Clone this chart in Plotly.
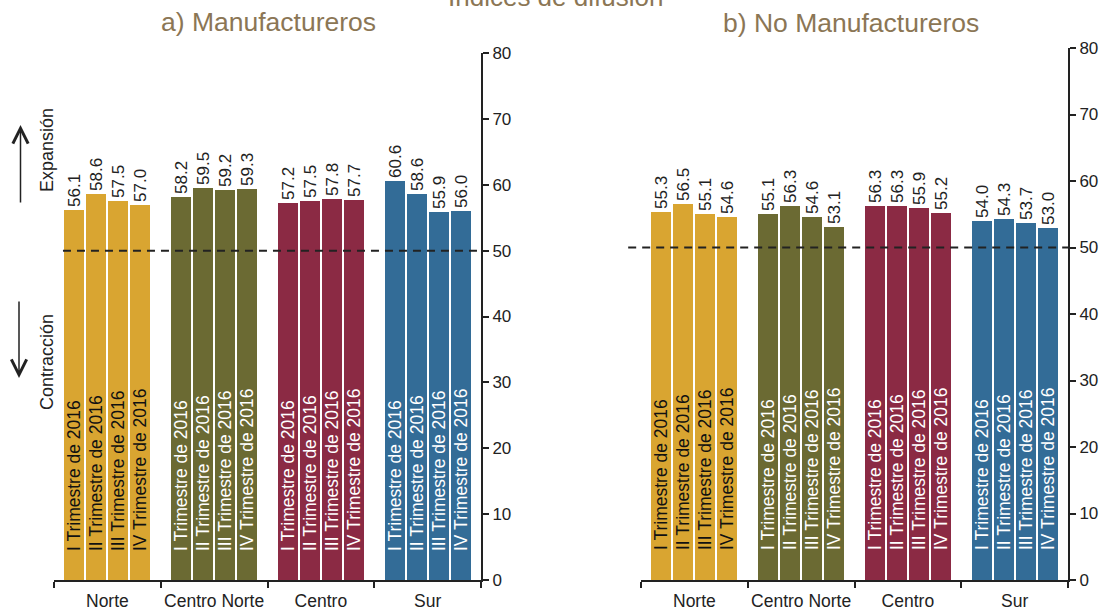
import plotly.graph_objects as go

# ---------------- data ----------------
regions = ["Norte", "Centro Norte", "Centro", "Sur"]
quarters = ["I Trimestre de 2016", "II Trimestre de 2016",
            "III Trimestre de 2016", "IV Trimestre de 2016"]
manuf_norte = [56.1, 58.6, 57.5, 57.0]
manuf_centro_norte = [58.2, 59.5, 59.2, 59.3]
manuf_centro = [57.2, 57.5, 57.8, 57.7]
manuf_sur = [60.6, 58.6, 55.9, 56.0]
nomanuf_norte = [55.3, 56.5, 55.1, 54.6]
nomanuf_centro_norte = [55.1, 56.3, 54.6, 53.1]
nomanuf_centro = [56.3, 56.3, 55.9, 55.2]
nomanuf_sur = [54.0, 54.3, 53.7, 53.0]
threshold = 50
y_ticks = [0, 10, 20, 30, 40, 50, 60, 70, 80]

region_colors = ["#D9A531", "#6B6A33", "#8B2A44", "#336C97"]
inside_text_colors = ["#111111", "#FFFFFF", "#FFFFFF", "#FFFFFF"]

W, H = 1107, 607
FONT = "Liberation Sans, Arial, sans-serif"
TITLE_COLOR = "#8B7655"
INK = "#222222"

pitch = 0.206
bar_w = 0.188
text_base = 4.0


def build(series):
    xs, ys, cols, tcols, labels, names = [], [], [], [], [], []
    for i, vals in enumerate(series):
        for j, v in enumerate(vals):
            xs.append(i + 0.5 + (j - 1.5) * pitch)
            ys.append(v)
            cols.append(region_colors[i])
            tcols.append(inside_text_colors[i])
            labels.append(f"{v:.1f}")
            names.append(quarters[j])
    return xs, ys, cols, tcols, labels, names


fig = go.Figure()

panels = [
    ([manuf_norte, manuf_centro_norte, manuf_centro, manuf_sur], "x", "y"),
    ([nomanuf_norte, nomanuf_centro_norte, nomanuf_centro, nomanuf_sur], "x2", "y2"),
]

for series, xa, ya in panels:
    xs, ys, cols, tcols, labels, names = build(series)
    fig.add_trace(go.Bar(
        x=xs, y=ys, width=bar_w, xaxis=xa, yaxis=ya,
        marker=dict(color=cols, line=dict(width=0)),
        text=labels, textposition="outside", textangle=-90,
        outsidetextfont=dict(family=FONT, size=17, color=INK),
        constraintext="none", cliponaxis=False, showlegend=False,
        hoverinfo="skip",
    ))
    fig.add_trace(go.Bar(
        x=xs, y=[v - text_base for v in ys], base=text_base, width=bar_w,
        xaxis=xa, yaxis=ya,
        marker=dict(color="rgba(0,0,0,0)", line=dict(width=0)),
        text=names, textposition="inside", insidetextanchor="start",
        textangle=-90, insidetextfont=dict(family=FONT, size=17.5, color=tcols),
        constraintext="none", cliponaxis=False, showlegend=False,
        hoverinfo="skip",
    ))


def xaxis_cfg(domain, anchor):
    return dict(
        domain=domain, anchor=anchor, range=[0, 4],
        tickmode="array", tickvals=[0.5, 1.5, 2.5, 3.5], ticktext=regions,
        ticks="", showgrid=False, zeroline=False,
        showline=True, linecolor=INK, linewidth=2,
        tickfont=dict(family=FONT, size=17.5, color=INK),
        ticklabelstandoff=4,
        minor=dict(tickmode="array", tickvals=[0, 1, 2, 3, 4], ticks="outside",
                   ticklen=6, tickwidth=2, tickcolor=INK, showgrid=False),
        automargin=False, fixedrange=True,
    )


def yaxis_cfg(domain, anchor):
    return dict(
        domain=domain, anchor=anchor, range=[0, 80], side="right",
        tickmode="array", tickvals=y_ticks,
        ticks="outside", ticklen=6, tickwidth=2, tickcolor=INK,
        showline=True, linecolor=INK, linewidth=2,
        showgrid=False, zeroline=False,
        tickfont=dict(family=FONT, size=17, color=INK),
        automargin=False, fixedrange=True,
    )


fig.update_layout(
    width=W, height=H,
    margin=dict(l=0, r=0, t=0, b=0),
    paper_bgcolor="white", plot_bgcolor="white",
    barmode="overlay", bargap=0,
    showlegend=False,
    xaxis=xaxis_cfg([54 / W, 481 / W], "y"),
    yaxis=yaxis_cfg([1 - 580 / H, 1 - 53 / H], "x"),
    xaxis2=xaxis_cfg([641 / W, 1068 / W], "y2"),
    yaxis2=yaxis_cfg([1 - 580 / H, 1 - 48 / H], "x2"),
)

# threshold dashed lines
fig.add_shape(type="line", xref="x domain", yref="y", x0=0.021, x1=1,
              y0=threshold, y1=threshold,
              line=dict(color=INK, width=2, dash="8px,6px"))
fig.add_shape(type="line", xref="x2 domain", yref="y2", x0=-0.03, x1=1,
              y0=threshold, y1=threshold,
              line=dict(color=INK, width=2, dash="8px,6px"))

# titles
fig.add_annotation(text="Índices de difusión", x=555 / W, y=1 + 3 / H,
                   xref="paper", yref="paper", showarrow=False,
                   xanchor="center", yanchor="middle",
                   font=dict(family=FONT, size=26, color=TITLE_COLOR))
fig.add_annotation(text="a) Manufactureros", x=268 / W, y=1 - 22 / H,
                   xref="paper", yref="paper", showarrow=False,
                   xanchor="center", yanchor="middle",
                   font=dict(family=FONT, size=26.5, color=TITLE_COLOR))
fig.add_annotation(text="b) No Manufactureros", x=851 / W, y=1 - 23 / H,
                   xref="paper", yref="paper", showarrow=False,
                   xanchor="center", yanchor="middle",
                   font=dict(family=FONT, size=26.5, color=TITLE_COLOR))

# side labels
fig.add_annotation(text="Expansión", x=47 / W, y=1 - 150 / H,
                   xref="paper", yref="paper", showarrow=False, textangle=-90,
                   xanchor="center", yanchor="middle",
                   font=dict(family=FONT, size=18, color=INK))
fig.add_annotation(text="Contracción", x=47 / W, y=1 - 362 / H,
                   xref="paper", yref="paper", showarrow=False, textangle=-90,
                   xanchor="center", yanchor="middle",
                   font=dict(family=FONT, size=18, color=INK))
# arrows
fig.add_annotation(text="", x=20.5 / W, y=1 - 125 / H, xref="paper", yref="paper",
                   showarrow=True, ax=0, ay=79, arrowhead=5, arrowsize=2,
                   arrowwidth=1.5, arrowcolor=INK)
fig.add_annotation(text="", x=19 / W, y=1 - 378 / H, xref="paper", yref="paper",
                   showarrow=True, ax=0, ay=-78, arrowhead=5, arrowsize=2,
                   arrowwidth=1.5, arrowcolor=INK)

fig.write_html("out.html",
               config={"displayModeBar": False},
               post_script="document.body.style.margin='0';"
                           "document.body.style.overflow='hidden';")
